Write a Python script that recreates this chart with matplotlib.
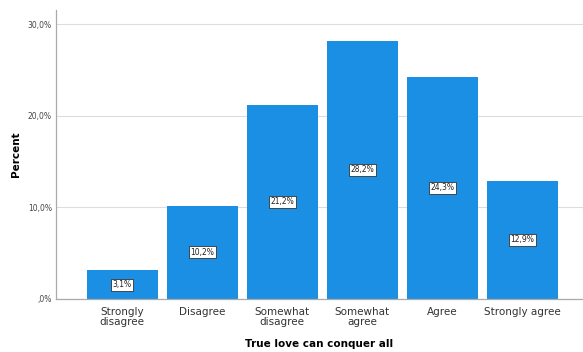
import matplotlib
matplotlib.use("Agg")
import matplotlib.pyplot as plt
from matplotlib.ticker import FuncFormatter

categories = ["Strongly\ndisagree", "Disagree", "Somewhat\ndisagree",
              "Somewhat\nagree", "Agree", "Strongly agree"]
percents = [3.1, 10.2, 21.2, 28.2, 24.3, 12.9]
yticks = [0, 10, 20, 30]

fig = plt.figure(figsize=(5.83, 3.52), dpi=100)
ax = fig.add_axes([0.096, 0.151, 0.904, 0.821])

x = list(range(len(categories)))
ax.bar(x, percents, width=0.89, color="#1a8fe3", zorder=2)

for xi, v in zip(x, percents):
    ax.text(xi, v / 2, f"{v:.1f}%".replace(".", ","), ha="center", va="center",
            fontsize=5.5, color="#222222", zorder=3,
            bbox=dict(boxstyle="square,pad=0.2", fc="white", ec="#333333", lw=0.6))

ax.set_xlim(-0.83, 5.76)
ax.set_ylim(0, 31.6)
ax.set_yticks(yticks)
ax.yaxis.set_major_formatter(FuncFormatter(
    lambda v, p: (",0%" if v == 0 else f"{v:.1f}%".replace(".", ","))))
ax.set_xticks(x)
ax.set_xticklabels(categories, fontsize=7.5, color="#333333", linespacing=1.0)
ax.tick_params(axis="y", labelsize=5.5, labelcolor="#444444", length=0, pad=3)
ax.tick_params(axis="x", length=0, pad=6)
ax.grid(axis="y", color="#dddddd", lw=0.8, zorder=0)

for s in ["top", "right"]:
    ax.spines[s].set_visible(False)
for s in ["left", "bottom"]:
    ax.spines[s].set_color("#aaaaaa")
    ax.spines[s].set_linewidth(0.9)

ax.set_ylabel("Percent", fontsize=7.5, fontweight="bold")
ax.yaxis.set_label_coords(-0.066, 0.5)
ax.set_xlabel("True love can conquer all", fontsize=7.5, fontweight="bold")
ax.xaxis.set_label_coords(0.5, -0.14)

fig.savefig("out.png", dpi=100)
